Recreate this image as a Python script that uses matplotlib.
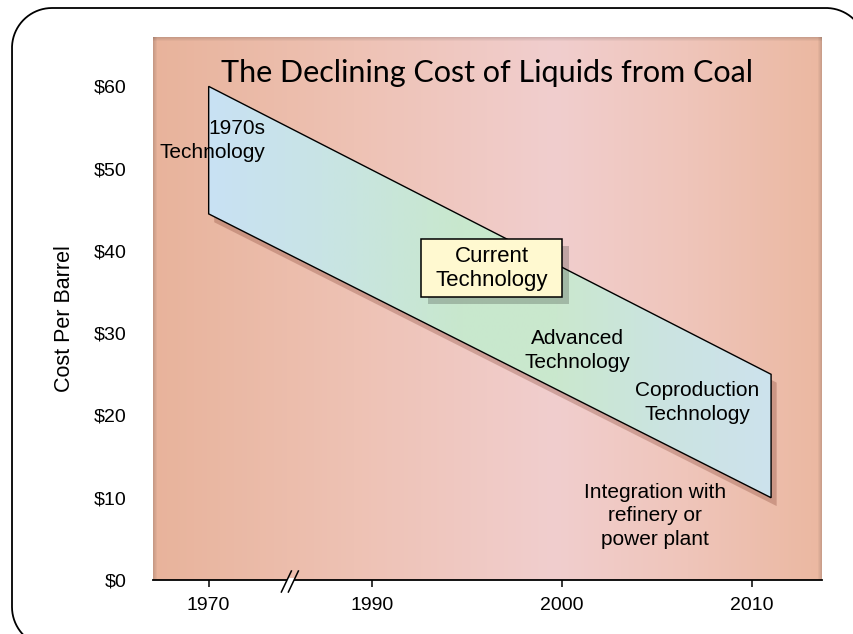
import numpy as np
import matplotlib
matplotlib.use("Agg")
import matplotlib.pyplot as plt
from matplotlib.patches import Polygon, Rectangle
from matplotlib import transforms as mtransforms
import matplotlib.patheffects as pe

# ---------------- data ----------------
tick_years = [1970, 1990, 2000, 2010]
y_ticks = [0, 10, 20, 30, 40, 50, 60]
y_tick_labels = ["$0", "$10", "$20", "$30", "$40", "$50", "$60"]

band_years = [1970, 2011]      # start / end of the cost band
band_upper = [60, 25]          # upper cost edge ($/bbl)
band_lower = [44.5, 10]        # lower cost edge ($/bbl)

title_text = "The Declining Cost of Liquids from Coal"
y_label = "Cost Per Barrel"
stage_labels = ["1970s\nTechnology", "Current\nTechnology", "Advanced\nTechnology",
                "Coproduction\nTechnology", "Integration with\nrefinery or\npower plant"]
stage_years = [1977.0, 1996.3, 2000.8, 2007.1, 2004.9]
stage_costs = [53.4, 37.9, 27.9, 21.6, 7.8]

# ---------------- broken x scale ----------------
BREAK_AT = 1990      # years before this are compressed
COMPRESS = 0.43
BREAK_MARK_YEAR = 1980


def xpos(year):
    year = np.asarray(year, dtype=float)
    return np.where(year >= BREAK_AT, year, BREAK_AT - (BREAK_AT - year) * COMPRESS)


plt.rcParams["font.family"] = ["Liberation Sans", "DejaVu Sans"]

W, H = 854, 634
fig = plt.figure(figsize=(W / 100, H / 100), dpi=100)
fig.patch.set_facecolor("white")

ax_l, ax_r, ax_t, ax_b = 153, 822, 37, 580
ax = fig.add_axes([ax_l / W, 1 - ax_b / H, (ax_r - ax_l) / W, (ax_b - ax_t) / H])
ax.set_facecolor("none")

# ---------------- background gradient ----------------
bw, bh = ax_r - ax_l, ax_b - ax_t
fx = np.linspace(0, 1, bw)
bg_t = [0.0, 0.3, 0.6, 0.8, 1.0]
bg_c = np.array([[232, 179, 155], [238, 194, 180], [241, 206, 206],
                 [239, 197, 186], [235, 184, 161]]) / 255.0
row = np.stack([np.interp(fx, bg_t, bg_c[:, i]) for i in range(3)], axis=-1)
bg = np.repeat(row[None, :, :], bh, axis=0)
# soft bevel along the edges
edge = 4
for k in range(edge):
    f = 0.86 + 0.035 * k
    bg[:, k] *= f
    bg[:, -1 - k] *= f
    bg[k, :] *= f
ax.imshow(bg, extent=[0, 1, 0, 1], transform=ax.transAxes, aspect="auto",
          interpolation="bilinear", zorder=0)

# ---------------- cost band ----------------
bx = xpos(band_years)
verts = [(bx[0], band_upper[0]), (bx[1], band_upper[1]),
         (bx[1], band_lower[1]), (bx[0], band_lower[0])]

shadow_tr = ax.transData + mtransforms.ScaledTranslation(4 / 72, -6 / 72, fig.dpi_scale_trans)
ax.add_patch(Polygon(verts, closed=True, facecolor="#8B4A3A", alpha=0.33,
                     edgecolor="none", transform=shadow_tr, zorder=1.5))

gt = np.linspace(0, 1, 300)
band_t = [0.0, 0.2, 0.45, 0.62, 0.8, 1.0]
band_c = np.array([[201, 225, 244], [200, 228, 229], [200, 232, 205],
                   [202, 232, 206], [203, 228, 224], [205, 226, 237]]) / 255.0
grad = np.stack([np.interp(gt, band_t, band_c[:, i]) for i in range(3)], axis=-1)[None]
im = ax.imshow(grad, extent=[bx[0], bx[1], min(band_lower), max(band_upper)],
               aspect="auto", interpolation="bilinear", zorder=2)
band = Polygon(verts, closed=True, facecolor="none", edgecolor="black", lw=1.0, zorder=3)
ax.add_patch(band)
im.set_clip_path(band)

# ---------------- axes ----------------
ax.set_xlim(1978.47, 2013.68)
ax.set_ylim(0, 66)
for s in ("left", "right", "top"):
    ax.spines[s].set_visible(False)
ax.spines["bottom"].set_linewidth(1.3)
ax.spines["bottom"].set_zorder(4)

ax.set_xticks(xpos(tick_years))
ax.set_xticklabels([str(y) for y in tick_years])
ax.set_yticks(y_ticks)
ax.set_yticklabels(y_tick_labels)
ax.tick_params(axis="x", direction="out", length=5, width=1.1, pad=7,
               labelsize=14, colors="black")
ax.tick_params(axis="y", length=0, pad=19, labelsize=14, colors="black")

fig.text(65 / W, 1 - 319 / H, y_label, rotation=90, ha="center", va="center",
         fontsize=15.5)

# ---------------- texts ----------------
ax.text(0.5, 0.917, title_text, transform=ax.transAxes, ha="center", va="baseline",
        fontsize=22, family=["Lato", "DejaVu Sans"], zorder=6)

for i, (lbl, yr, c) in enumerate(zip(stage_labels, stage_years, stage_costs)):
    x = float(xpos(yr))
    if i == 0:
        ax.text(x, c, lbl, ha="right", va="center", multialignment="right",
                fontsize=15, linespacing=1.32, zorder=6)
    elif i == 1:
        bw_d, bh_d = 141 / 19.0, 58 / 8.233
        box = Rectangle((x - bw_d / 2, c - bh_d / 2), bw_d, bh_d,
                        facecolor="#FFF9D0", edgecolor="black", lw=1.1, zorder=5,
                        path_effects=[pe.SimplePatchShadow(offset=(5, -5),
                                                           shadow_rgbFace="black",
                                                           alpha=0.2),
                                      pe.Normal()])
        ax.add_patch(box)
        ax.text(x, c, lbl, ha="center", va="center", multialignment="center",
                fontsize=16, linespacing=1.2, zorder=6)
    else:
        ax.text(x, c, lbl, ha="center", va="center", multialignment="center",
                fontsize=15, linespacing=1.32, zorder=6)

# ---------------- overlay: axis break + slide frame (pixel units, y down) ----------------
ov = fig.add_axes([0, 0, 1, 1], zorder=10)
ov.set_xlim(0, W)
ov.set_ylim(H, 0)
ov.axis("off")
ov.patch.set_visible(False)

Xd, Yd = ax.transData.transform((float(xpos(BREAK_MARK_YEAR)), 0))
X, Y0 = Xd, H - Yd
ov.plot([X - 3.5, X + 3.5], [Y0, Y0], color="white", lw=3.0,
        solid_capstyle="butt", zorder=1)
ov.plot([X - 9, X + 1], [Y0 + 12, Y0 - 9], color="black", lw=1.1, zorder=2)
ov.plot([X - 2, X + 8], [Y0 + 12, Y0 - 9], color="black", lw=1.1, zorder=2)

# rounded slide frame running off the right and bottom edges
fl, ft, fr, fb, rad = 12, 8, 866, 647, 40


def arc(cx, cy, a0, a1, n=40):
    t = np.radians(np.linspace(a0, a1, n))
    return cx + rad * np.cos(t), cy - rad * np.sin(t)


pieces = [arc(fl + rad, fb - rad, 270, 180), arc(fl + rad, ft + rad, 180, 90),
          arc(fr - rad, ft + rad, 90, 0), arc(fr - rad, fb - rad, 0, -90)]
fxs = np.concatenate([p[0] for p in pieces] + [[pieces[0][0][0]]])
fys = np.concatenate([p[1] for p in pieces] + [[pieces[0][1][0]]])
ov.plot(fxs, fys, color="black", lw=1.3, clip_on=False, solid_joinstyle="round")

fig.savefig("out.png", dpi=100)
